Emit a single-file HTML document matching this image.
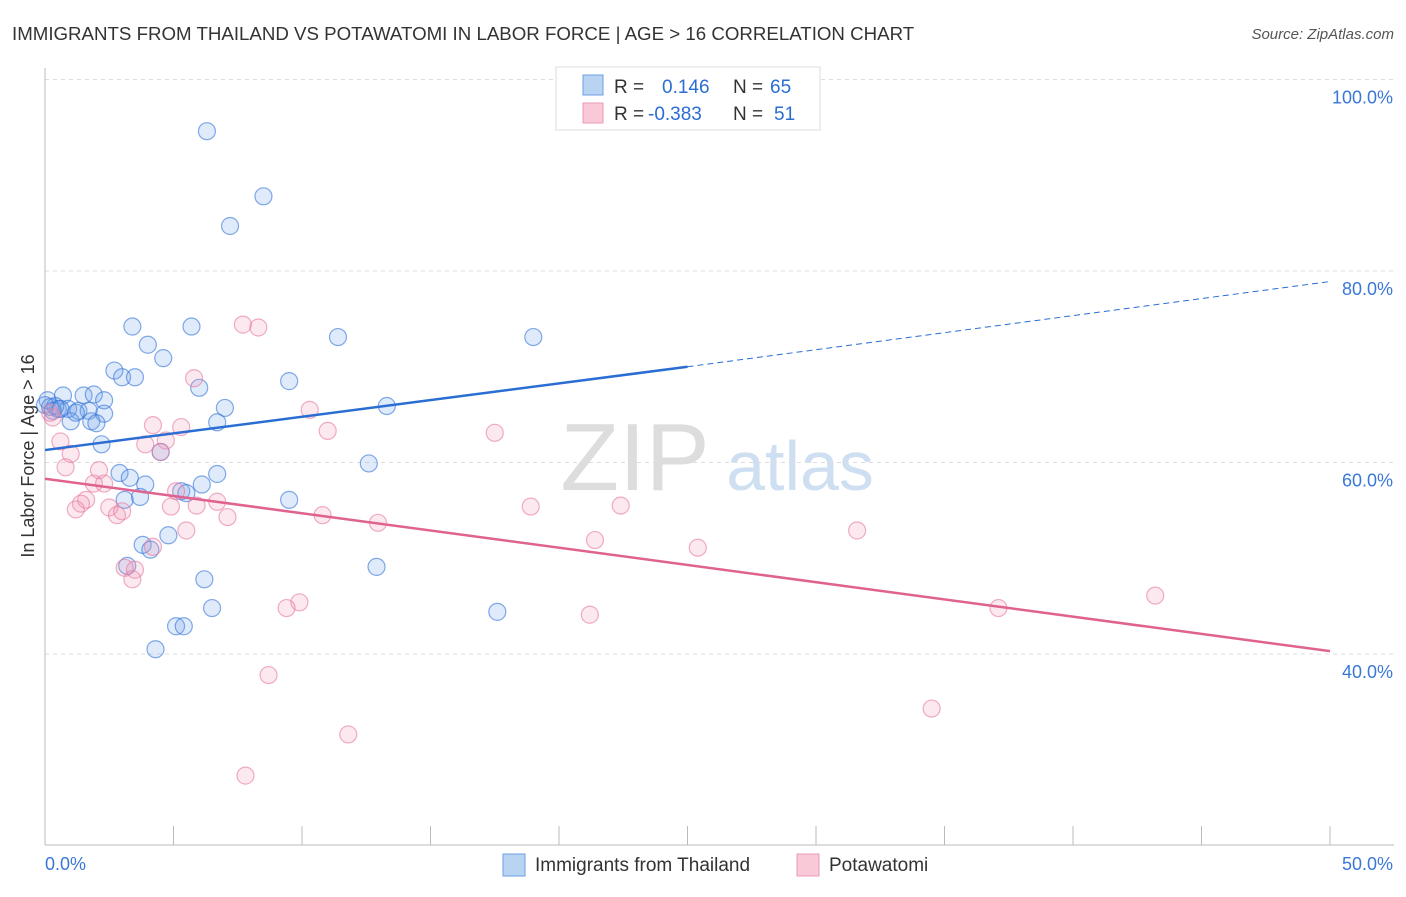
<!DOCTYPE html>
<html><head><meta charset="utf-8"><style>
body{margin:0;background:#fff;font-family:"Liberation Sans",sans-serif;}
svg text{font-family:"Liberation Sans",sans-serif;}
</style></head><body>
<svg id="c" width="1406" height="892">
<text x="12" y="40" font-size="18.7" fill="#333">IMMIGRANTS FROM THAILAND VS POTAWATOMI IN LABOR FORCE | AGE &gt; 16 CORRELATION CHART</text>
<text x="1394" y="39" font-size="15" fill="#555" font-style="italic" text-anchor="end">Source: ZipAtlas.com</text>
<text x="635" y="490" font-size="96" fill="#ddd" font-family="Liberation Serif" text-anchor="middle">ZIP</text>
<text x="800" y="490" font-size="70" fill="#cfdff2" text-anchor="middle">atlas</text>
<text transform="translate(34,456) rotate(-90)" font-size="18" fill="#333" text-anchor="middle">In Labor Force | Age &gt; 16</text>
<g id="grid"></g><g id="marks"></g>
<g>
<rect x="556" y="67" width="264" height="63" fill="#fff" stroke="#ddd"/>
<rect x="583" y="75" width="20" height="20" fill="#b9d3f3" stroke="#6b9fe0"/>
<rect x="583" y="103" width="20" height="20" fill="#f9c9d8" stroke="#e99ab4"/>
<text x="614" y="93" font-size="19" fill="#333">R =</text><text x="662" y="93" font-size="19" fill="#2a6dd3">0.146</text>
<text x="733" y="93" font-size="19" fill="#333">N =</text><text x="770" y="93" font-size="19" fill="#2a6dd3">65</text>
<text x="614" y="120" font-size="19" fill="#333">R =</text><text x="648" y="120" font-size="19" fill="#2a6dd3">-0.383</text>
<text x="733" y="120" font-size="19" fill="#333">N =</text><text x="774" y="120" font-size="19" fill="#2a6dd3">51</text>
</g>
<g>
<rect x="503" y="854" width="22" height="22" fill="#b9d3f3" stroke="#6b9fe0"/>
<text x="535" y="871" font-size="19" fill="#333">Immigrants from Thailand</text>
<rect x="797" y="854" width="22" height="22" fill="#f9c9d8" stroke="#e99ab4"/>
<text x="829" y="871" font-size="19" fill="#333">Potawatomi</text>
</g>
</svg>
<script>
const yTicks=[40,60,80,100];
const yTickLabels=["40.0%","60.0%","80.0%","100.0%"];
const xTickLabels=["0.0%","50.0%"];
const blueX=[6.3,8.5,7.2,3.4,5.7,11.4,19.0,4.0,4.6,2.7,3.0,3.5,9.5,6.0,0.1,0.7,1.5,1.9,2.3,0.5,0.9,0.2,0.4,1.3,1.7,2.3,1.0,1.8,2.0,6.7,7.0,13.3,2.2,4.5,12.6,2.9,3.3,6.7,3.9,6.1,3.1,3.7,5.3,5.5,9.5,4.8,3.8,4.1,3.2,12.9,6.2,6.5,17.6,5.1,5.4,4.3,0.0,0.3,0.6,1.2,22.3];
const blueY=[94.6,87.8,84.7,74.2,74.2,73.1,73.1,72.3,70.9,69.6,68.9,68.9,68.5,67.8,66.5,67.0,67.0,67.1,66.5,65.6,65.6,65.8,65.9,65.4,65.4,65.1,64.3,64.3,64.1,64.2,65.7,65.9,61.9,61.1,59.9,58.9,58.4,58.8,57.7,57.7,56.1,56.4,57.0,56.8,56.1,52.4,51.4,50.9,49.2,49.1,47.8,44.8,44.4,42.9,42.9,40.5,66.0,65.4,65.6,65.2,99.9];
const pinkX=[7.7,8.3,5.8,10.3,4.2,5.3,11.0,17.5,4.7,3.9,4.5,0.6,1.0,0.3,0.8,2.1,1.9,2.3,1.6,1.4,1.2,2.5,2.8,3.0,5.1,6.7,5.9,4.9,5.5,7.1,10.8,12.957,18.9,22.4,21.4,25.4,31.6,4.2,3.5,3.1,3.4,9.9,9.4,21.2,37.1,43.2,8.7,34.5,11.8,7.8,0.2];
const pinkY=[74.4,74.1,68.8,65.5,63.9,63.7,63.3,63.1,62.3,61.9,61.1,62.2,60.9,64.7,59.5,59.2,57.8,57.8,56.1,55.7,55.1,55.3,54.5,54.9,57.0,55.9,55.5,55.4,52.9,54.3,54.5,53.7,55.4,55.5,51.9,51.1,52.9,51.2,48.8,49.0,47.8,45.4,44.8,44.1,44.8,46.1,37.8,34.3,31.6,27.3,65.2];
const blueLine=[[0,61.3],[25,70.0]], blueDash=[[25,70.0],[50,78.9]];
const pinkLine=[[0,58.3],[50,40.3]];
const X0=45,X1=1330;
const sx=v=>X0+(X1-X0)*v/50;
const sy=v=>654-(v-40)*(191.5/20);
const NS="http://www.w3.org/2000/svg";
function mk(tag,attrs,parent){const e=document.createElementNS(NS,tag);for(const k in attrs)e.setAttribute(k,attrs[k]);parent.appendChild(e);return e;}
const g=document.getElementById('grid'),m=document.getElementById('marks');
yTicks.forEach((t,i)=>{
 const l=mk('line',{x1:X0,x2:1394,y1:sy(t),y2:sy(t),stroke:'#ddd','stroke-dasharray':'4,4'},g);
 
 
 const tx=mk('text',{x:1393,y:sy(t)+24,'font-size':18,fill:'#3a78d8','text-anchor':'end'},g);
 tx.textContent=yTickLabels[i];
 
 
});
const ax=mk('line',{x1:X0,x2:1394,y1:845,y2:845,stroke:'#bbb'},g);


const ay=mk('line',{x1:X0,x2:X0,y1:68,y2:845,stroke:'#bbb'},g);


for(let v=5;v<=50;v+=5){const t=mk('line',{x1:sx(v),x2:sx(v),y1:826,y2:845,stroke:'#bbb'},g);
 
 }
const xl0=mk('text',{x:45,y:870,'font-size':18,fill:'#3a78d8'},g);xl0.textContent=xTickLabels[0];


const xl1=mk('text',{x:1393,y:870,'font-size':18,fill:'#3a78d8','text-anchor':'end'},g);xl1.textContent=xTickLabels[1];


blueX.forEach((x,i)=>{const c=mk('circle',{cx:sx(x),cy:sy(blueY[i]),r:8.5,fill:'rgba(110,160,230,0.22)',stroke:'rgba(50,115,215,0.6)','stroke-width':1.2},m);
 
 });
pinkX.forEach((x,i)=>{const c=mk('circle',{cx:sx(x),cy:sy(pinkY[i]),r:8.5,fill:'rgba(240,150,180,0.22)',stroke:'rgba(230,120,160,0.6)','stroke-width':1.2},m);
 
 });
const bl=mk('line',{x1:sx(blueLine[0][0]),y1:sy(blueLine[0][1]),x2:sx(blueLine[1][0]),y2:sy(blueLine[1][1]),stroke:'#2a6dd3','stroke-width':2.5},m);


const bd=mk('line',{x1:sx(blueDash[0][0]),y1:sy(blueDash[0][1]),x2:sx(blueDash[1][0]),y2:sy(blueDash[1][1]),stroke:'#2a6dd3','stroke-width':1,'stroke-dasharray':'6,4'},m);


const pl=mk('line',{x1:sx(pinkLine[0][0]),y1:sy(pinkLine[0][1]),x2:sx(pinkLine[1][0]),y2:sy(pinkLine[1][1]),stroke:'#e0628e','stroke-width':2.5},m);


</script>
</body></html>
